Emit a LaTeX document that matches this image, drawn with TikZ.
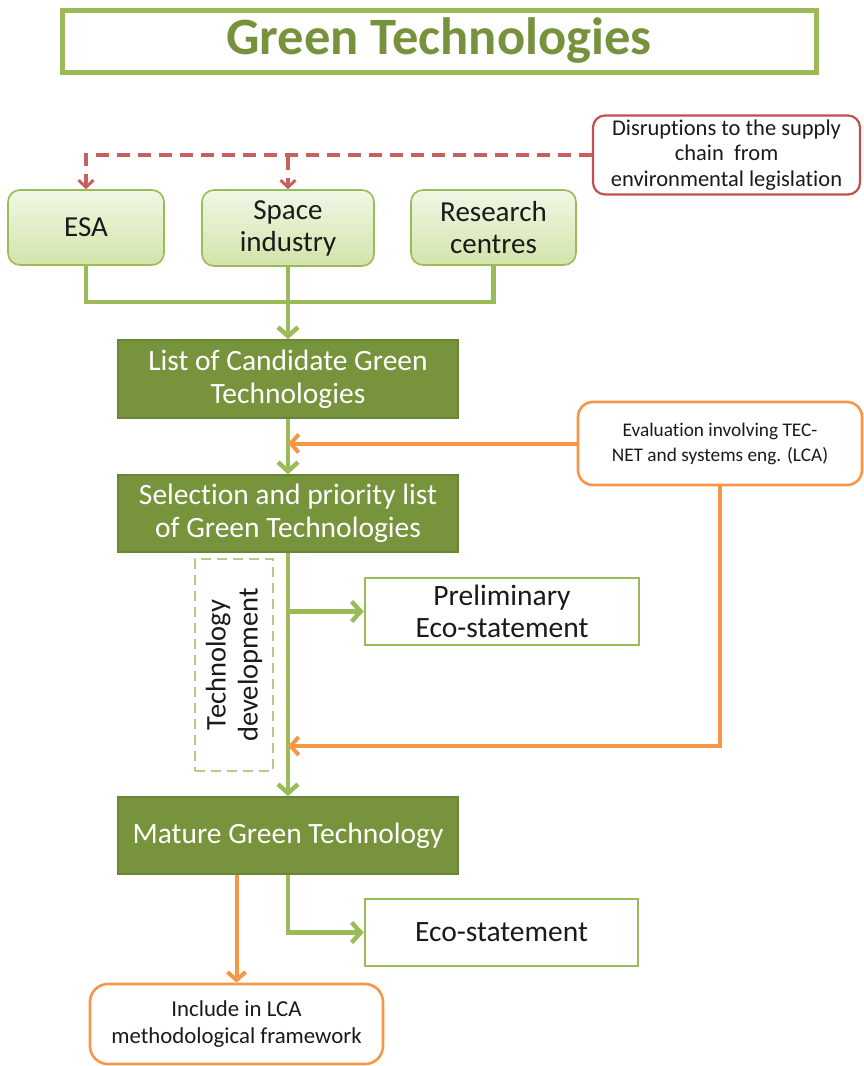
\documentclass[tikz,border=0pt]{standalone}
\usepackage{fontspec}
\setmainfont{Carlito}[Ligatures=NoCommon]
\usetikzlibrary{arrows.meta,positioning,calc}

\definecolor{gline}{HTML}{9BBB59}
\definecolor{gdark}{HTML}{77933C}
\definecolor{gdarkedge}{HTML}{6A8535}
\definecolor{gtitle}{HTML}{76923C}
\definecolor{glighttop}{HTML}{F1F7E6}
\definecolor{glightbot}{HTML}{D2E4AA}
\definecolor{gdash}{HTML}{B3CE84}
\definecolor{rline}{HTML}{C0504D}
\definecolor{oline}{HTML}{F79646}
\definecolor{txt}{HTML}{1A1A1A}

\tikzset{
  sz/.style n args={2}{minimum width=#1, minimum height=#2, inner sep=0pt, align=center},
  titlebox/.style={draw=gline, line width=5pt, fill=white, text=gtitle,
    font=\fontsize{52.5}{58}\selectfont\bfseries},
  sourcebox/.style={draw=gline, line width=1.6pt, rounded corners=12pt,
    top color=glighttop, bottom color=glightbot, text=txt,
    font=\fontsize{29}{32}\selectfont},
  stagebox/.style={draw=gdarkedge, line width=1.6pt, fill=gdark, text=white,
    font=\fontsize{29.5}{33}\selectfont},
  outbox/.style={draw=gline, line width=2.6pt, fill=white, text=txt,
    font=\fontsize{29.5}{32}\selectfont},
  redbox/.style={draw=rline, line width=2.2pt, rounded corners=12pt, fill=white,
    text=txt, font=\fontsize{22.5}{25.5}\selectfont},
  orangebox/.style={draw=oline, line width=2.6pt, rounded corners=15pt, fill=white,
    text=txt, font=\fontsize{19.3}{25}\selectfont},
  devbox/.style={draw=gdash, line width=2.6pt, dash pattern=on 10pt off 6pt},
  gconn/.style={draw=gline, line width=4.5pt},
  garrow/.style={gconn, -{Straight Barb[length=9pt,width=20pt,line width=4.5pt]}},
  oarrow/.style={draw=oline, line width=4pt,
    -{Straight Barb[length=8pt,width=18pt,line width=4pt]}},
  rarrow/.style={draw=rline!90!white, line width=3.5pt, dash pattern=on 13pt off 8pt,
    -{Straight Barb[length=7pt,width=15pt,line width=3pt]}},
}

\begin{document}
\begin{tikzpicture}[x=1pt,y=-1pt]
\useasboundingbox (0,0) rectangle (863,1066);

% heading
\node[titlebox, sz={754pt}{62pt}] (title) at (439,41) {Green Technologies};

% external pressure
\node[redbox, sz={267pt}{79pt}] (disrupt) at (726.5,155)
  {Disruptions to the supply\\chain~~from\\environmental legislation};

% sources of candidate technologies
\node[sourcebox, sz={156pt}{75pt}] (esa) at (86,227.5) {ESA};
\node[sourcebox, sz={172pt}{76pt}] (space) at (288,228) {Space\\industry};
\node[sourcebox, sz={165pt}{75pt}] (research) at (493.5,227.5) {Research\\centres};

% main stages
\node[stagebox, sz={340pt}{78pt}] (list) at (288,379) {List of Candidate Green\\Technologies};
\node[stagebox, sz={340pt}{77pt}] (sel) at (288,513.5) {Selection and priority list\\of Green Technologies};
\node[stagebox, sz={340pt}{77pt}] (mature) at (288,835.5) {Mature Green Technology};

% evaluation loop
\node[orangebox, sz={284pt}{83pt}] (eval) at (720,443.5)
  {Evaluation involving TEC-\\NET and systems eng. (LCA)};

% development phase
\node[devbox, sz={78pt}{212pt}] (dev) at (234,665) {};
\node[rotate=90, align=center, text=txt, font=\fontsize{28.5}{32}\selectfont] (devlabel) at (dev.center)
  {Technology\\development};

% outputs
\node[outbox, sz={274pt}{67pt}] (prelim) at (502,611.5) {Preliminary\\Eco-statement};
\node[outbox, sz={273pt}{67pt}] (eco) at (501.5,932.5) {Eco-statement};
\node[orangebox, sz={293pt}{80pt}, rounded corners=18pt,
      font=\fontsize{22.8}{27}\selectfont] (include) at (236.5,1024)
  {Include in LCA\\methodological framework};

% junction points
\coordinate (merge) at (288,302);
\coordinate (feedback) at (288,746);

% disruption feeds
\draw[rarrow] (disrupt.west) -| (esa.north);
\draw[rarrow] ($(disrupt.west -| space.north)+(0,1.5)$) -- (space.north);

% sources into the candidate list
\draw[gconn] (esa.south) |- (merge) -| (research.south);
\draw[garrow] (space.south) -- (list.north);

% stage flow
\draw[garrow] (list.south) -- (sel.north);
\draw[garrow] (sel.south) -- (mature.north);
\draw[garrow] (sel.south |- prelim.west) -- (prelim.west);
\draw[garrow] (mature.south) |- (eco.west);

% evaluation feedback
\draw[oarrow] (eval.west) -- (eval.west -| sel.north);
\draw[oarrow] (eval.south) |- (feedback);
\draw[oarrow] (mature.south -| include.north) -- (include.north);
\end{tikzpicture}
\end{document}
